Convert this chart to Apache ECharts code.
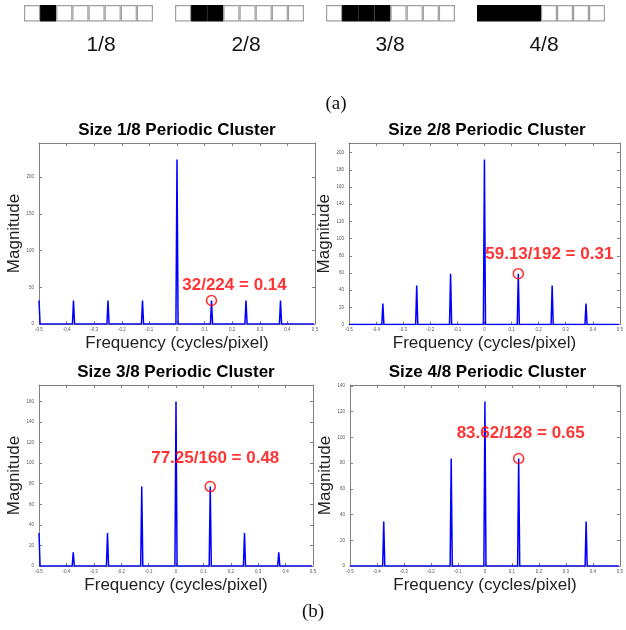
<!DOCTYPE html>
<html>
<head>
<meta charset="utf-8">
<script src="https://cdn.jsdelivr.net/npm/echarts@6/dist/echarts.min.js"></script>
<style>html,body{margin:0;padding:0;background:#fff;}#c{width:626px;height:630px;}</style>
</head>
<body>
<div id="c"></div>
<script>
// ---------- data ----------
const freqs = [-0.5, -0.375, -0.25, -0.125, 0, 0.125, 0.25, 0.375];
const mag1 = [32, 32, 32, 32, 224, 32, 32, 32];
const mag2 = [0, 24.5, 45.25, 59.13, 192, 59.13, 45.25, 24.5];
const mag3 = [32, 13.25, 32, 77.25, 160, 77.25, 32, 13.25];
const mag4 = [0, 34.6, 0, 83.62, 128, 83.62, 0, 34.6];
const binWidth = 1 / 256;
const lastFreq = 0.5 - 1 / 256;
const xTicks = [-0.5, -0.4, -0.3, -0.2, -0.1, 0, 0.1, 0.2, 0.3, 0.4, 0.5];
const yTicks1 = [0, 50, 100, 150, 200];
const yTicks2 = [0, 20, 40, 60, 80, 100, 120, 140, 160, 180, 200];
const yTicks3 = [0, 20, 40, 60, 80, 100, 120, 140, 160];
const yTicks4 = [0, 20, 40, 60, 80, 100, 120, 140];
const yMaxes = [246.4, 211.2, 176, 140.8];
const plotTitles = ['Size 1/8 Periodic Cluster', 'Size 2/8 Periodic Cluster', 'Size 3/8 Periodic Cluster', 'Size 4/8 Periodic Cluster'];
const markFreq = 0.125;
const markValues = [32, 59.13, 77.25, 83.62];
const annotations = ['32/224 = 0.14', '59.13/192 = 0.31', '77.25/160 = 0.48', '83.62/128 = 0.65'];
const stripLabels = ['1/8', '2/8', '3/8', '4/8'];
const stripCells = [
  [0, 1, 0, 0, 0, 0, 0, 0],
  [0, 1, 1, 0, 0, 0, 0, 0],
  [0, 1, 1, 1, 0, 0, 0, 0],
  [1, 1, 1, 1, 0, 0, 0, 0]
];
const cellNames = ['c1', 'c2', 'c3', 'c4', 'c5', 'c6', 'c7', 'c8'];

// ---------- layout ----------
const mags = [mag1, mag2, mag3, mag4];
const yTicksAll = [yTicks1, yTicks2, yTicks3, yTicks4];
const plotGrids = [
  {left: 39, top: 143, width: 276, height: 181},
  {left: 349, top: 143, width: 276, height: 181.5},
  {left: 39, top: 385, width: 274, height: 181},
  {left: 350, top: 385, width: 275, height: 181}
];
const labelOffsets = [[23, -15.5], [31, -19], [5, -28], [2, -25]];
const stripGrids = [
  {left: 24, top: 5, width: 129, height: 16.5},
  {left: 175, top: 5, width: 129, height: 16.5},
  {left: 326, top: 5, width: 129, height: 16.5},
  {left: 477, top: 5, width: 128, height: 16.5}
];
const stripLabelX = [101, 246, 390, 544];

const FONT = 'Liberation Sans, Arial, sans-serif';
const frameColor = '#808080';
const RED = '#ff0000';

function spectrumLine(mag) {
  const pts = [];
  freqs.forEach((f, i) => {
    const m = mag[i];
    if (m > 0) {
      if (f - binWidth >= -0.5) pts.push([f - binWidth, 0]);
      pts.push([f, m]);
      pts.push([f + binWidth, 0]);
    } else if (pts.length === 0) {
      pts.push([f, 0]);
    }
  });
  pts.push([lastFreq, 0]);
  return pts;
}

const fmtX = v => {
  const r = Math.round(v * 10) / 10;
  return r === 0 ? '0' : r.toFixed(1);
};

const grid = [], xAxis = [], yAxis = [], series = [], title = [];

plotGrids.forEach((g, i) => {
  grid.push(Object.assign({containLabel: false}, g));
  const tickStyle = {inside: true, length: 3, lineStyle: {color: frameColor, width: 1}};
  xAxis.push({
    type: 'value', gridIndex: i, min: -0.5, max: 0.5, position: 'bottom',
    axisLine: {show: true, onZero: false, lineStyle: {color: frameColor, width: 1}},
    axisTick: Object.assign({customValues: xTicks}, tickStyle),
    axisLabel: {customValues: xTicks, formatter: fmtX, fontSize: 4.5, color: '#555', margin: 3, fontFamily: FONT},
    splitLine: {show: false},
    name: 'Frequency (cycles/pixel)', nameLocation: 'middle', nameGap: 19,
    nameTextStyle: {fontSize: 17, color: '#222', fontFamily: FONT, verticalAlign: 'middle'}
  });
  xAxis.push({
    type: 'value', gridIndex: i, min: -0.5, max: 0.5, position: 'top',
    axisLine: {show: true, onZero: false, lineStyle: {color: frameColor, width: 1}},
    axisTick: Object.assign({customValues: xTicks}, tickStyle),
    axisLabel: {show: false}, splitLine: {show: false}
  });
  yAxis.push({
    type: 'value', gridIndex: i, min: 0, max: yMaxes[i], position: 'left',
    axisLine: {show: true, onZero: false, lineStyle: {color: frameColor, width: 1}},
    axisTick: Object.assign({customValues: yTicksAll[i]}, tickStyle),
    axisLabel: {customValues: yTicksAll[i], fontSize: 4.5, color: '#555', margin: 5, fontFamily: FONT},
    splitLine: {show: false},
    name: 'Magnitude', nameLocation: 'middle', nameGap: 23, nameRotate: 90,
    nameTextStyle: {fontSize: 17, color: '#222', fontFamily: FONT, verticalAlign: 'middle'}
  });
  yAxis.push({
    type: 'value', gridIndex: i, min: 0, max: yMaxes[i], position: 'right',
    axisLine: {show: true, onZero: false, lineStyle: {color: frameColor, width: 1}},
    axisTick: Object.assign({customValues: yTicksAll[i]}, tickStyle),
    axisLabel: {show: false}, splitLine: {show: false}
  });
  series.push({
    type: 'line', xAxisIndex: 2 * i, yAxisIndex: 2 * i,
    data: spectrumLine(mags[i]), showSymbol: false, symbol: 'none',
    lineStyle: {color: '#0000ff', width: 1.5}, z: 3, silent: true, animation: false
  });
  series.push({
    type: 'scatter', xAxisIndex: 2 * i, yAxisIndex: 2 * i,
    data: [[markFreq, markValues[i]]], symbol: 'circle', symbolSize: 10,
    itemStyle: {color: 'rgba(0,0,0,0)', borderColor: RED, borderWidth: 1.6},
    label: {show: true, position: 'inside', offset: labelOffsets[i], formatter: annotations[i],
      color: RED, fontSize: 17, fontWeight: 'bold', fontFamily: FONT},
    z: 4, silent: true, animation: false
  });
  title.push({
    text: plotTitles[i], left: g.left + g.width / 2, top: g.top - 13,
    textAlign: 'center', textVerticalAlign: 'middle', padding: 0,
    textStyle: {fontSize: 17, fontWeight: 'bold', color: '#000', fontFamily: FONT}
  });
});

stripGrids.forEach((g, k) => {
  const gi = 4 + k;
  grid.push(Object.assign({containLabel: false}, g));
  xAxis.push({type: 'category', gridIndex: gi, data: cellNames, show: false, boundaryGap: true});
  yAxis.push({type: 'value', gridIndex: gi, min: 0, max: 1, show: false});
  series.push({
    type: 'bar', xAxisIndex: 8 + k, yAxisIndex: 8 + k, barCategoryGap: '0%', barWidth: '100%',
    data: stripCells[k].map(c => ({value: 1, itemStyle: c ? {color: '#000', borderColor: '#000'} : {color: '#fff', borderColor: '#a0a0a0'}})),
    itemStyle: {borderWidth: 1.2},
    silent: true, animation: false
  });
  title.push({
    text: stripLabels[k], left: stripLabelX[k], top: 45, textAlign: 'center', textVerticalAlign: 'middle', padding: 0,
    textStyle: {fontSize: 21, fontWeight: 'normal', color: '#111', fontFamily: FONT}
  });
});

title.push({text: '(a)', left: 336, top: 104, textAlign: 'center', textVerticalAlign: 'middle', padding: 0,
  textStyle: {fontSize: 19, fontWeight: 'normal', color: '#111', fontFamily: 'Liberation Serif, serif'}});
title.push({text: '(b)', left: 313, top: 612, textAlign: 'center', textVerticalAlign: 'middle', padding: 0,
  textStyle: {fontSize: 19, fontWeight: 'normal', color: '#111', fontFamily: 'Liberation Serif, serif'}});

const chart = echarts.init(document.getElementById('c'), null, {renderer: 'canvas'});
chart.setOption({animation: false, backgroundColor: '#fff', title, grid, xAxis, yAxis, series});
</script>
</body>
</html>
